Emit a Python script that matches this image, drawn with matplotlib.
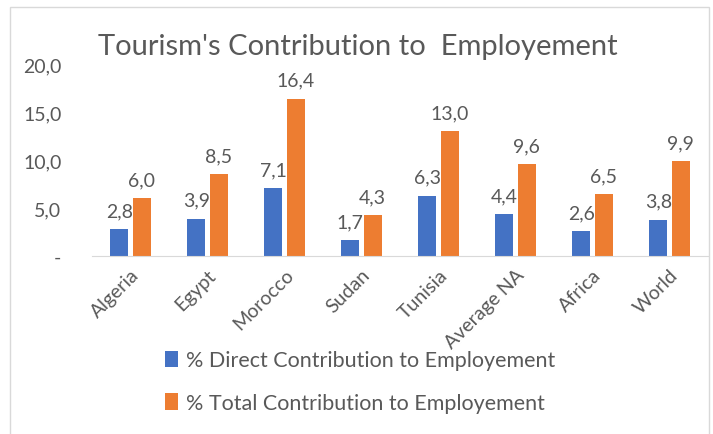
import numpy as np
import matplotlib.pyplot as plt
from matplotlib.patches import Rectangle

categories = ['Algeria', 'Egypt', 'Morocco', 'Sudan', 'Tunisia', 'Average NA', 'Africa', 'World']
direct = [2.8, 3.9, 7.1, 1.7, 6.3, 4.4, 2.6, 3.8]
total = [6.0, 8.5, 16.4, 4.3, 13.0, 9.6, 6.5, 9.9]
yticks = [0, 5, 10, 15, 20]
ytick_labels = ['-', '5,0', '10,0', '15,0', '20,0']

plt.rcParams['font.family'] = ['Lato', 'DejaVu Sans']
grey = '#595959'
blue = '#4472C4'
orange = '#ED7D31'

fig = plt.figure(figsize=(7.13, 4.35), dpi=100)
fig.patches.append(Rectangle((10/713, -0.1), 0.981, 1.1 - 8/435, transform=fig.transFigure,
                             fill=False, edgecolor='#D9D9D9', linewidth=1))
ax = fig.add_axes([92/713, 1 - 257/435, 616/713, 192/435])

x = np.arange(len(categories))
w = 0.235
b1 = ax.bar(x - 0.145, direct, w, color=blue, label='% Direct Contribution to Employement')
b2 = ax.bar(x + 0.145, total, w, color=orange, label='% Total Contribution to Employement')

for bars, vals in ((b1, direct), (b2, total)):
    for r, v in zip(bars, vals):
        ax.annotate(f'{v:.1f}'.replace('.', ','), (r.get_x() + r.get_width()/2, v),
                    xytext=(0, 7), textcoords='offset points', ha='center', va='bottom',
                    fontsize=14, color=grey)

ax.set_xlim(-0.5, len(categories) - 0.5)
ax.set_ylim(0, 20)
ax.set_yticks(yticks)
ax.set_yticklabels(ytick_labels)
ax.set_xticks(x)
ax.set_xticklabels(categories, rotation=45, ha='right', rotation_mode='anchor')
ax.tick_params(axis='y', length=0, pad=22, labelsize=14, labelcolor=grey)
ax.tick_params(axis='x', length=0, pad=7, labelsize=14, labelcolor=grey)
for s in ['top', 'right', 'left']:
    ax.spines[s].set_visible(False)
ax.spines['bottom'].set_color('#D9D9D9')

fig.text(0.502, 1 - 47/435, "Tourism's Contribution to  Employement", ha='center', va='center',
         fontsize=21, color=grey)

fig.legend(loc='upper left', bbox_to_anchor=(146/713, 1 - 332/435), frameon=False,
           fontsize=15.5, labelcolor=grey, handlelength=0.6, handleheight=0.8,
           handletextpad=0.35, labelspacing=1.05)

fig.savefig('out.png', dpi=100)
